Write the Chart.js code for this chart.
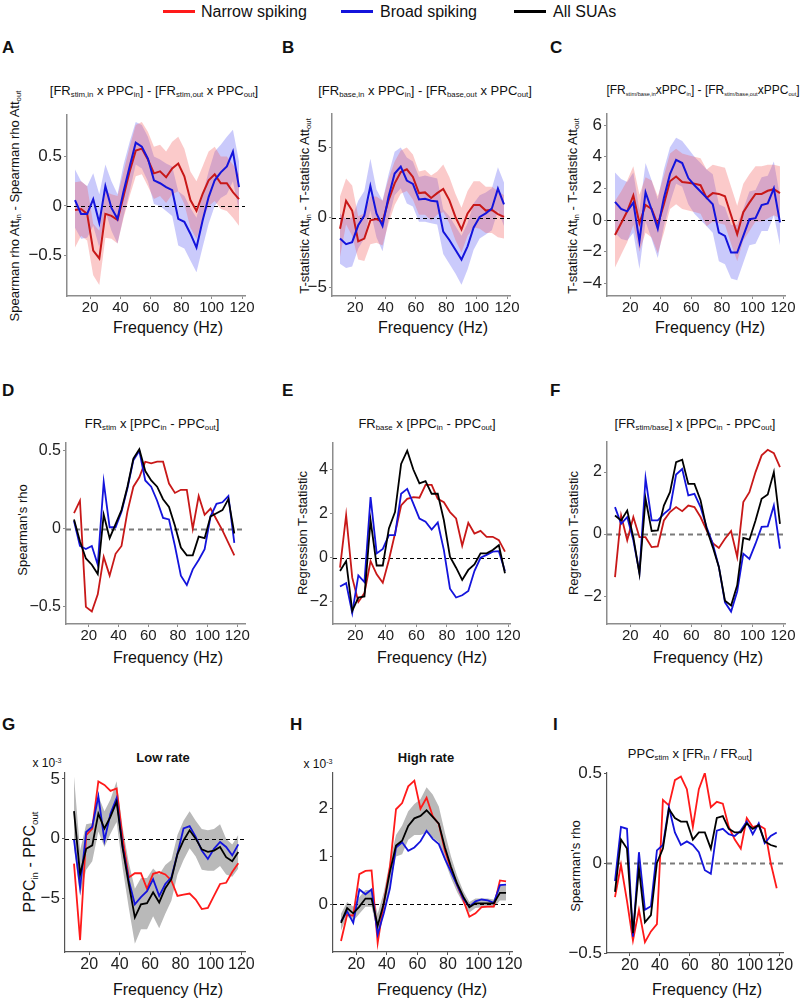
<!DOCTYPE html>
<html><head><meta charset="utf-8">
<script src="https://cdn.jsdelivr.net/npm/chart.js@4.4.1/dist/chart.umd.min.js"></script>
<style>
html,body{margin:0;padding:0;background:#fff;}
body{width:800px;height:1008px;position:relative;overflow:hidden;font-family:'Liberation Sans',Arial,Helvetica,sans-serif;color:#111;}
.t{position:absolute;transform:translate(-50%,-50%);white-space:nowrap;font-size:13px;line-height:1;}
.yl{position:absolute;transform:translate(-50%,-50%) rotate(-90deg);white-space:nowrap;font-size:13px;line-height:1;}
.lt{position:absolute;font-weight:bold;font-size:17px;line-height:20px;}
.xt{position:absolute;transform:translate(-50%,-50%);white-space:nowrap;font-size:16px;line-height:1;}
sub{font-size:0.6em;vertical-align:-0.35em;line-height:0;}
sup{font-size:0.6em;vertical-align:0.6em;line-height:0;}
.small sub{font-size:0.47em;}
canvas{position:absolute;}
.lg{position:absolute;height:3px;width:32px;}
.lgt{position:absolute;font-size:16px;line-height:1;transform:translateY(-50%);white-space:nowrap;}
</style></head><body>

<div class="lg" style="left:163px;top:10px;background:#ff1a1a"></div><div class="lgt" style="left:201px;top:12px">Narrow spiking</div>
<div class="lg" style="left:341px;top:10px;background:#1414dc"></div><div class="lgt" style="left:380px;top:12px">Broad spiking</div>
<div class="lg" style="left:514px;top:10px;background:#000"></div><div class="lgt" style="left:553px;top:12px">All SUAs</div>

<div class="lt" style="left:2px;top:38px">A</div>
<div class="lt" style="left:282px;top:38px">B</div>
<div class="lt" style="left:550px;top:38px">C</div>
<div class="lt" style="left:2px;top:381px">D</div>
<div class="lt" style="left:282px;top:381px">E</div>
<div class="lt" style="left:550px;top:381px">F</div>
<div class="lt" style="left:2px;top:715px">G</div>
<div class="lt" style="left:290px;top:715px">H</div>
<div class="lt" style="left:553px;top:715px">I</div>

<div class="t" style="left:154px;top:90px">[FR<sub>stim,in</sub> x PPC<sub>in</sub>] - [FR<sub>stim,out</sub> x PPC<sub>out</sub>]</div>
<div class="t" style="left:425px;top:90px">[FR<sub>base,in</sub> x PPC<sub>in</sub>] - [FR<sub>base,out</sub> x PPC<sub>out</sub>]</div>
<div class="t small" style="left:703px;top:90px;font-size:12px">[FR<sub>stim/base,in</sub>xPPC<sub>in</sub>] - [FR<sub>stim/base,out</sub>xPPC<sub>out</sub>]</div>
<div class="t" style="left:152px;top:423px">FR<sub>stim</sub> x [PPC<sub>in</sub> - PPC<sub>out</sub>]</div>
<div class="t" style="left:427px;top:423px">FR<sub>base</sub> x [PPC<sub>in</sub> - PPC<sub>out</sub>]</div>
<div class="t" style="left:695px;top:423px">[FR<sub>stim/base</sub>] x [PPC<sub>in</sub> - PPC<sub>out</sub>]</div>
<div class="t" style="left:163px;top:757px;font-weight:bold">Low rate</div>
<div class="t" style="left:426px;top:757px;font-weight:bold">High rate</div>
<div class="t" style="left:690px;top:753px">PPC<sub>stim</sub> x [FR<sub>in</sub> / FR<sub>out</sub>]</div>
<div class="t" style="left:47px;top:763px;font-size:12px">x 10<sup>-3</sup></div>
<div class="t" style="left:318px;top:764px;font-size:12px">x 10<sup>-3</sup></div>

<div class="yl" style="left:14px;top:206px">Spearman rho Att<sub>in</sub> - Spearman rho Att<sub>out</sub></div>
<div class="yl" style="left:304px;top:206px">T-statistic Att<sub>in</sub> - T-statistic Att<sub>out</sub></div>
<div class="yl" style="left:572px;top:206px">T-statistic Att<sub>in</sub> - T-statistic Att<sub>out</sub></div>
<div class="yl" style="left:22px;top:530px">Spearman's rho</div>
<div class="yl" style="left:302px;top:533px">Regression T-statistic</div>
<div class="yl" style="left:573px;top:533px">Regression T-statistic</div>
<div class="yl" style="left:30px;top:862px;font-size:16px">PPC<sub>in</sub> - PPC<sub>out</sub></div>
<div class="yl" style="left:575px;top:866px">Spearman's rho</div>

<div class="xt" style="left:168px;top:328px">Frequency (Hz)</div>
<div class="xt" style="left:433px;top:328px">Frequency (Hz)</div>
<div class="xt" style="left:710px;top:328px">Frequency (Hz)</div>
<div class="xt" style="left:168px;top:658px">Frequency (Hz)</div>
<div class="xt" style="left:432px;top:658px">Frequency (Hz)</div>
<div class="xt" style="left:708px;top:658px">Frequency (Hz)</div>
<div class="xt" style="left:168px;top:990px">Frequency (Hz)</div>
<div class="xt" style="left:432px;top:990px">Frequency (Hz)</div>
<div class="xt" style="left:707px;top:990px">Frequency (Hz)</div>

<script>
// ---------------- DATA ----------------
const freq = [10,14,18,22,26,30,34,38,42,46,50,54,58,62,66,70,74,78,82,86,90,94,98,102,106,110,114,118];
const xTickVals = [20,40,60,80,100,120];

// Panel A
const aRed    = [-0.04,-0.03,-0.08,-0.45,-0.53,-0.08,-0.1,-0.14,0.1,0.35,0.56,0.58,0.47,0.33,0.35,0.29,0.38,0.43,0.3,0.06,-0.05,0.12,0.26,0.32,0.23,0.23,0.14,0.07];
const aRedHi  = [0.24,0.25,0.2,-0.18,-0.25,0.15,0.12,0.1,0.35,0.6,0.82,0.85,0.75,0.6,0.62,0.55,0.65,0.7,0.58,0.35,0.25,0.4,0.55,0.6,0.5,0.5,0.42,0.32];
const aRedLo  = [-0.42,-0.3,-0.35,-0.7,-0.8,-0.32,-0.33,-0.38,-0.12,0.1,0.3,0.32,0.2,0.07,0.1,0.03,0.12,0.15,0.02,-0.22,-0.33,-0.15,0.0,0.05,-0.03,-0.05,-0.12,-0.2];
const aBlue   = [0.06,-0.08,-0.08,0.07,-0.17,0.2,-0.02,-0.13,0.15,0.4,0.64,0.6,0.48,0.26,0.23,0.19,0.16,-0.13,-0.16,-0.28,-0.42,-0.15,0.09,0.26,0.34,0.4,0.55,0.19];
const aBlueHi = [0.37,0.25,0.2,0.33,0.12,0.42,0.25,0.12,0.42,0.65,0.85,0.82,0.7,0.5,0.47,0.43,0.4,0.15,0.1,-0.02,-0.12,0.12,0.35,0.55,0.62,0.7,0.77,0.45];
const aBlueLo = [-0.22,-0.33,-0.32,-0.2,-0.42,-0.05,-0.25,-0.38,-0.1,0.15,0.42,0.38,0.25,0.02,0.0,-0.05,-0.1,-0.4,-0.43,-0.55,-0.67,-0.42,-0.18,0.0,0.08,0.12,0.25,-0.05];
const aTicks  = [-0.5,0,0.5];

// Panel B
const bRed    = [-0.8,1.2,0.5,-1.7,-1.5,-0.2,-0.1,-0.3,1.25,2.45,3.25,3.45,2.9,1.75,1.8,1.4,1.75,2.05,1.25,0.05,-0.85,0.3,0.9,0.9,0.5,0.55,0.25,0.05];
const bRedHi  = [1.5,2.8,2.3,0.1,0.3,1.5,1.5,1.2,2.8,4.0,4.8,5.0,4.5,3.3,3.4,3.0,3.3,3.8,2.9,1.7,0.7,1.9,2.6,2.6,2.2,2.2,1.9,1.6];
const bRedLo  = [-2.8,-0.5,-1.3,-3.0,-3.1,-1.9,-1.8,-2.0,-0.4,0.9,1.7,1.9,1.3,0.2,0.2,-0.2,0.2,0.4,-0.4,-1.6,-2.5,-1.3,-0.7,-0.8,-1.1,-1.1,-1.4,-1.5];
const bBlue   = [-1.5,-1.9,-1.75,-0.55,0.15,2.25,0.3,-0.6,1.5,3.15,3.65,2.65,2.4,1.3,1.35,1.2,1.15,-1.0,-1.6,-2.3,-3.0,-2.05,-0.7,0.05,0.3,0.65,2.07,0.95];
const bBlueHi = [0.3,-0.1,0.0,1.2,1.9,4.2,2.0,1.2,3.1,4.7,5.0,4.3,4.0,2.9,3.0,2.9,2.8,0.6,0.1,-0.6,-1.3,-0.4,1.0,1.6,1.8,2.1,3.6,2.5];
const bBlueLo = [-3.3,-3.6,-3.5,-2.2,-1.5,0.5,-1.4,-2.4,-0.1,1.6,2.1,1.0,0.8,-0.3,-0.3,-0.4,-0.5,-2.6,-3.3,-4.0,-4.8,-3.7,-2.3,-1.5,-1.2,-0.9,0.5,-0.6];
const bTicks  = [-5,0,5];

// Panel C
const cRed    = [-0.95,-0.2,0.55,1.55,-0.2,0.95,0.7,-0.3,1.0,2.45,2.75,2.4,2.35,2.3,2.2,1.4,1.7,1.65,1.5,0.3,-0.9,0.5,1.1,1.65,1.65,1.85,1.95,1.7];
const cRedHi  = [1.2,1.8,2.5,3.4,1.6,2.7,2.5,1.5,2.8,4.2,4.5,4.2,4.1,4.0,3.9,3.2,3.5,3.4,3.3,2.1,0.9,2.3,2.9,3.4,3.4,3.5,3.5,3.4];
const cRedLo  = [-3.0,-2.2,-1.4,-0.3,-2.0,-0.8,-1.1,-2.1,-0.8,0.7,1.0,0.7,0.6,0.5,0.4,-0.4,-0.1,-0.2,-0.3,-1.5,-2.6,-1.3,-0.7,-0.1,-0.1,0.1,0.3,0.1];
const cBlue   = [1.15,0.7,0.55,1.1,-1.35,1.75,0.65,-0.55,1.4,2.9,3.8,3.6,2.65,2.2,1.8,1.4,1.0,-0.8,-1.0,-2.05,-2.05,-1.0,0.05,0.12,0.95,1.05,2.0,-0.15];
const cBlueHi = [3.0,2.6,2.4,3.0,0.6,3.6,2.5,1.3,3.2,4.6,5.2,5.0,4.5,4.0,3.6,3.2,2.9,1.0,0.8,-0.3,-0.3,0.7,1.8,1.9,2.7,2.8,3.7,1.5];
const cBlueLo = [-0.8,-1.2,-1.3,-0.8,-3.1,-0.1,-1.2,-2.4,-0.4,1.1,2.3,2.1,1.0,0.4,0.0,-0.4,-0.8,-2.6,-2.8,-3.7,-3.8,-2.7,-1.6,-1.5,-0.7,-0.7,0.3,-1.6];
const cTicks  = [-4,-2,0,2,4,6];

// Panel D
const dRed   = [0.1,0.18,-0.5,-0.53,-0.42,-0.18,-0.3,-0.16,-0.11,0.11,0.27,0.33,0.43,0.42,0.43,0.43,0.29,0.23,0.25,0.25,0.0,0.21,0.09,0.13,0.06,-0.01,-0.09,-0.17];
const dBlue  = [0.05,-0.11,-0.13,-0.11,-0.23,0.3,0.01,0.01,0.11,0.26,0.44,0.5,0.31,0.27,0.18,0.07,0.06,-0.11,-0.3,-0.36,-0.26,-0.2,-0.13,0.08,0.16,0.17,0.21,-0.09];
const dBlack = [0.06,-0.08,-0.19,-0.23,-0.29,0.09,-0.06,0.03,0.12,0.27,0.45,0.51,0.37,0.31,0.27,0.19,0.14,0.02,-0.12,-0.17,-0.17,-0.05,-0.06,0.08,0.1,0.12,0.19,-0.03];
const dTicks = [-0.5,0,0.5];

// Panel E
const eRed   = [-0.45,1.93,-0.9,-2.0,-1.6,-0.15,-0.75,-1.13,-0.1,1.1,2.37,2.67,2.75,2.72,3.3,3.3,2.67,2.52,2.07,1.78,0.55,1.58,1.1,1.22,0.95,0.95,0.8,0.28];
const eBlue  = [-1.3,-1.15,-2.5,-0.8,-1.1,2.75,0.2,0.4,1.03,1.03,2.9,3.12,2.45,1.78,1.63,1.28,1.6,0.35,-1.4,-1.8,-1.7,-1.5,-0.6,0.0,0.13,0.28,0.3,-0.6];
const eBlack = [-0.6,-0.15,-2.4,-1.8,-1.75,1.7,-0.35,-0.35,1.33,2.07,4.25,4.85,4.0,3.37,3.47,2.9,2.9,1.7,0.05,-0.45,-1.0,-0.55,-0.3,0.2,0.2,0.35,0.57,-0.7];
const eTicks = [-2,0,2,4];

// Panel F
const fRed   = [-1.39,0.6,-0.2,0.55,-0.1,-0.1,-0.42,-0.4,0.44,0.71,0.87,0.74,0.92,0.87,0.55,0.12,-0.29,-0.45,-0.15,0.1,-0.74,1.03,1.35,2.0,2.54,2.72,2.61,2.16];
const fBlue  = [0.87,0.33,0.55,-0.2,-1.25,1.8,0.44,0.44,0.65,0.82,1.92,2.1,1.25,1.3,0.87,0.22,-0.31,-1.06,-2.2,-2.5,-1.85,-0.63,-0.8,-0.31,0.23,0.25,0.92,-0.47];
const fBlack = [0.6,0.44,0.76,-0.1,-1.28,1.14,0.1,0.12,0.92,1.35,2.32,2.4,1.62,1.62,1.09,0.17,-0.42,-1.06,-2.15,-2.3,-1.65,-0.12,-0.18,0.44,1.14,1.28,2.0,0.33];
const fTicks = [-2,0,2];

// Panel G (x 10^-3)
const gRed   = [-2.1,-8.5,0.3,0.85,4.8,4.5,4.0,4.2,0.0,-3.25,-2.9,-2.9,-4.2,-2.95,-2.8,-3.0,-3.5,-4.8,-4.7,-4.6,-5.1,-5.9,-5.8,-4.8,-3.8,-3.7,-2.8,-2.06];
const gBlue  = [-0.1,-4.1,0.56,1.0,3.55,-0.15,2.1,3.4,-0.7,-3.5,-5.5,-4.9,-4.4,-3.4,-4.8,-3.8,-3.25,-1.27,0.85,1.05,0.15,-1.0,-1.7,-0.85,-0.28,-0.7,-1.4,-0.48];
const gBlack = [2.3,-3.0,-0.85,-0.56,2.1,0.85,1.85,3.1,-0.8,-3.8,-6.6,-5.5,-5.4,-4.5,-5.35,-4.15,-3.4,-1.3,-0.15,0.7,0.0,-0.9,-1.1,-1.0,-0.7,-1.55,-1.9,-1.13];
const gHi    = [5.2,-1.0,1.2,1.3,3.6,2.3,3.3,4.8,0.9,-2.0,-4.2,-3.3,-3.3,-2.5,-3.0,-2.2,-1.8,0.3,1.5,2.3,1.5,0.8,0.7,0.8,1.2,0.0,-0.5,0.3];
const gLo    = [-0.8,-4.8,-2.6,-1.9,0.6,-0.7,0.4,1.4,-2.5,-5.8,-8.8,-7.6,-7.6,-6.5,-7.5,-6.3,-5.2,-3.0,-1.8,-0.8,-1.5,-2.6,-2.7,-2.7,-2.3,-3.0,-3.2,-2.5];
const gTicks = [-5,0,5];

// Panel H (x 10^-3)
const hRed   = [-0.77,-0.22,-0.24,0.63,0.7,0.71,-0.81,0.02,0.78,1.99,2.12,2.47,2.59,2.0,2.23,1.85,1.68,1.12,0.74,0.4,0.09,-0.26,-0.19,-0.06,-0.05,-0.05,0.5,0.48];
const hBlue  = [-0.36,-0.15,-0.39,0.31,0.21,0.31,-0.63,-0.19,0.33,1.19,1.3,1.12,1.19,1.32,1.54,1.37,1.26,0.95,0.68,0.4,0.12,-0.05,0.06,0.1,0.08,0.03,0.4,0.41];
const hBlack = [-0.39,-0.08,-0.19,-0.05,0.12,0.12,-0.45,0.02,0.68,1.23,1.33,1.64,1.8,1.85,1.97,1.83,1.69,1.19,0.78,0.43,0.16,-0.06,0.02,0.02,0.02,0.02,0.24,0.24];
const hHi    = [-0.2,0.05,-0.05,0.15,0.3,0.3,-0.2,0.25,0.9,1.45,1.65,1.95,2.1,2.2,2.45,2.3,2.05,1.5,1.0,0.6,0.28,0.05,0.12,0.12,0.12,0.1,0.4,0.4];
const hLo    = [-0.55,-0.25,-0.35,-0.2,-0.05,-0.05,-0.6,-0.2,0.4,1.0,1.05,1.35,1.45,1.45,1.5,1.4,1.3,0.9,0.55,0.25,0.02,-0.17,-0.08,-0.07,-0.07,-0.07,0.08,0.08];
const hTicks = [0,1,2];

// Panel I
const iRed   = [-0.19,-0.01,-0.21,-0.43,-0.26,-0.44,-0.38,-0.34,0.35,0.32,0.46,0.48,0.41,0.2,0.41,0.5,0.31,0.34,0.33,0.2,0.13,0.08,0.25,0.2,0.21,0.19,0.0,-0.14];
const iBlue  = [-0.1,0.2,0.19,-0.41,0.06,-0.26,-0.24,0.07,0.1,0.31,0.17,0.1,0.12,0.1,0.06,-0.04,-0.06,0.18,0.19,0.16,0.15,0.18,0.23,0.16,0.22,0.11,0.15,0.17];
const iBlack = [-0.16,0.13,0.08,-0.39,-0.03,-0.33,-0.29,0.0,0.08,0.3,0.25,0.23,0.23,0.13,0.17,0.17,0.08,0.25,0.26,0.19,0.17,0.17,0.22,0.19,0.21,0.12,0.1,0.09];
const iTicks = [-0.5,0,0.5];

// ---------------- STYLE / LAYOUT ----------------
const RED1 = '#c81818', RED3 = '#ff1a1a', BLUE = '#1414dc', BLACK = '#000000';
const PINK = 'rgba(242,90,90,0.32)', LBLUE = 'rgba(90,90,242,0.32)', GRAY = '#b9b9b9';
const ZB = {c:'#000', w:1, dash:[4,3]}, ZG = {c:'#7a7a7a', w:2, dash:[5,4]};
const AX1 = {c:'#8c8c8c', w:1.5}, AX3 = {c:'#555', w:1.2};

const pts = arr => freq.map((f,i)=>({x:f, y:arr[i]}));
const fmt = v => v === 0 ? '0' : (v < 0 ? '\u2212' + String(Math.abs(v)) : String(v));

const panels = [
  {box:[67,115,245,296], xr:[4.73,121.95], yr:[-0.91,0.92], yt:aTicks, yf:17, xf:15, z:ZB, ax:AX1,
   lines:[[aBlue,BLUE,2],[aRed,RED1,2]], bands:[[aRedHi,aRedLo,PINK],[aBlueHi,aBlueLo,LBLUE]]},
  {box:[332,114,510,296], xr:[4.73,121.95], yr:[-5.6,7.4], yt:bTicks, yf:17, xf:15, z:ZB, ax:AX1,
   lines:[[bBlue,BLUE,2],[bRed,RED1,2]], bands:[[bRedHi,bRedLo,PINK],[bBlueHi,bBlueLo,LBLUE]]},
  {box:[607,114,785,296], xr:[4.76,121.3], yr:[-4.8,6.7], yt:cTicks, yf:17, xf:15, z:ZB, ax:AX1,
   lines:[[cBlue,BLUE,2],[cRed,RED1,2]], bands:[[cRedHi,cRedLo,PINK],[cBlueHi,cBlueLo,LBLUE]]},
  {box:[66,443,245,624], xr:[4.6,125.2], yr:[-0.61,0.55], yt:dTicks, yf:16, xf:15, z:ZG, ax:AX1,
   lines:[[dBlack,BLACK,1.8],[dBlue,BLUE,1.8],[dRed,RED1,1.8]], bands:[]},
  {box:[333,443,510,624], xr:[5.4,121.3], yr:[-3.0,5.2], yt:eTicks, yf:16, xf:15, z:ZB, ax:AX1,
   lines:[[eBlack,BLACK,1.8],[eBlue,BLUE,1.8],[eRed,RED1,1.8]], bands:[]},
  {box:[607,442,785,624], xr:[4.76,121.3], yr:[-2.9,2.97], yt:fTicks, yf:16, xf:15, z:ZG, ax:AX1,
   lines:[[fBlack,BLACK,1.8],[fBlue,BLUE,1.8],[fRed,RED1,1.8]], bands:[]},
  {box:[65,773,245,952], xr:[4.08,122.4], yr:[-9.5,5.5], yt:gTicks, yf:17, xf:16, z:ZB, ax:AX3,
   lines:[[gBlack,BLACK,1.8],[gBlue,BLUE,1.8],[gRed,RED3,1.8]], bands:[[gHi,gLo,GRAY]]},
  {box:[333,773,512,952], xr:[4.76,121.9], yr:[-1.0,2.75], yt:hTicks, yf:17, xf:16, z:ZB, ax:AX3,
   lines:[[hBlack,BLACK,1.8],[hBlue,BLUE,1.8],[hRed,RED3,1.8]], bands:[[hHi,hLo,GRAY]]},
  {box:[607,773,783,953], xr:[4.66,122.2], yr:[-0.5,0.5], yt:iTicks, yf:17, xf:16, z:ZG, ax:AX3,
   lines:[[iBlack,BLACK,1.8],[iBlue,BLUE,1.8],[iRed,RED3,1.8]], bands:[]}
];

const FONT = "'Liberation Sans', Arial, Helvetica, sans-serif";
const PADL = 60, PADT = 14, PADR = 24, PADB = 30;

function zeroPlugin(z){
  return {id:'zeroLine', beforeDatasetsDraw(chart){
    const {ctx, chartArea:a} = chart; const y = chart.scales.y;
    const py = Math.round(y.getPixelForValue(0)) + 0.5;
    ctx.save(); ctx.strokeStyle = z.c; ctx.lineWidth = z.w; ctx.setLineDash(z.dash);
    ctx.beginPath(); ctx.moveTo(a.left, py); ctx.lineTo(a.right, py); ctx.stroke(); ctx.restore();
  }};
}

panels.forEach(p => {
  const [L,T,R,B] = p.box;
  const w = R - L + PADL + PADR, h = B - T + PADT + PADB;
  const c = document.createElement('canvas');
  c.width = w; c.height = h;
  c.style.left = (L - PADL) + 'px'; c.style.top = (T - PADT) + 'px';
  c.style.width = w + 'px'; c.style.height = h + 'px';
  document.body.appendChild(c);
  const ds = [];
  p.lines.forEach(([d,col,lw]) => ds.push({data:pts(d), borderColor:col, borderWidth:lw, pointRadius:0, fill:false, tension:0}));
  p.bands.forEach(([hi,lo,col]) => {
    const idx = ds.length;
    ds.push({data:pts(hi), borderColor:'rgba(0,0,0,0)', borderWidth:0, pointRadius:0, fill:false});
    ds.push({data:pts(lo), borderColor:'rgba(0,0,0,0)', borderWidth:0, pointRadius:0, fill:idx, backgroundColor:col});
  });
  const grid = {drawOnChartArea:false, drawTicks:true, tickLength:3, color:p.ax.c, lineWidth:1};
  new Chart(c, {
    type:'line',
    data:{datasets:ds},
    options:{
      responsive:false, animation:false, devicePixelRatio:1,
      layout:{padding:{left:0, top:PADT, right:PADR, bottom:0}},
      plugins:{legend:{display:false}, tooltip:{enabled:false}, filler:{drawTime:'beforeDatasetsDraw'}},
      scales:{
        x:{type:'linear', min:p.xr[0], max:p.xr[1],
           afterBuildTicks: s => { s.ticks = xTickVals.map(v => ({value:v})); },
           afterFit: s => { s.height = PADB; },
           ticks:{font:{family:FONT, size:p.xf}, color:'#222', padding:0, maxRotation:0, autoSkip:false, callback: v => String(v)},
           grid:grid, border:{display:true, color:p.ax.c, width:p.ax.w}},
        y:{type:'linear', min:p.yr[0], max:p.yr[1],
           afterBuildTicks: s => { s.ticks = p.yt.map(v => ({value:v})); },
           afterFit: s => { s.width = PADL; },
           ticks:{font:{family:FONT, size:p.yf}, color:'#222', padding:2, autoSkip:false, callback: v => fmt(v)},
           grid:grid, border:{display:true, color:p.ax.c, width:p.ax.w}}
      }
    },
    plugins:[zeroPlugin(p.z)]
  });
});
</script>
</body></html>
